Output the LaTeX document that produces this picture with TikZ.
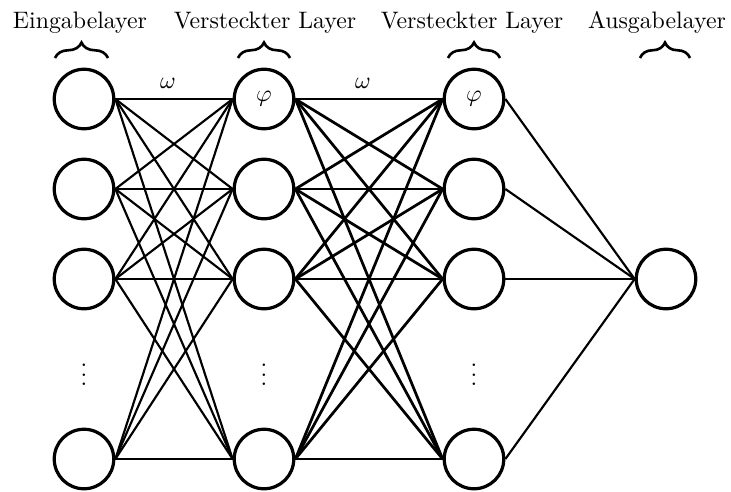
\documentclass[tikz,border=0pt]{standalone}
\usetikzlibrary{decorations.pathreplacing}
\begin{document}
\begin{tikzpicture}[x=0.42pt,y=-0.42pt,
  neuron/.style={circle,draw,line width=1.35pt,minimum size=25pt,inner sep=0pt},
  conn/.style={line width=0.9pt},
  connb/.style={line width=1.15pt},
  lbl/.style={anchor=base,inner sep=0pt},
  br/.style={decorate,decoration={brace,amplitude=6.5pt},line width=1.1pt}]
\useasboundingbox (0,0) rectangle (731,491);
% layer 1
\node[neuron] (a1) at (84,99) {};
\node[neuron] (a2) at (84,189) {};
\node[neuron] (a3) at (84,279) {};
\node (ad) at (84,368) {$\vdots$};
\node[neuron] (a4) at (84,459) {};
% layer 2
\node[neuron] (b1) at (264,99) {$\varphi$};
\node[neuron] (b2) at (264,189) {};
\node[neuron] (b3) at (264,279) {};
\node (bd) at (264,368) {$\vdots$};
\node[neuron] (b4) at (264,459) {};
% layer 3
\node[neuron] (c1) at (474,99) {$\varphi$};
\node[neuron] (c2) at (474,189) {};
\node[neuron] (c3) at (474,279) {};
\node (cd) at (474,368) {$\vdots$};
\node[neuron] (c4) at (474,459) {};
% output
\node[neuron] (o) at (666,279) {};
% connections
\foreach \i in {1,2,3,4}{
  \foreach \j in {1,2,3,4}{
    \draw[conn] (a\i.east) -- (b\j.west);
    \draw[connb] (b\i.east) -- (c\j.west);
  }
  \draw[conn] (c\i.east) -- (o.west);
}
% weights
\node (w1) at (168,83) {$\omega$};
\node (w2) at (363,83) {$\omega$};
% braces
\draw[br] (55,58) -- (108,58);
\draw[br] (238,58) -- (290,58);
\draw[br] (448,58) -- (500,58);
\draw[br] (640,58) -- (690,58);
% labels
\node[lbl] (l1) at (80,28) {Eingabelayer};
\node[lbl] (l2) at (265,28) {Versteckter Layer};
\node[lbl] (l3) at (472,28) {Versteckter Layer};
\node[lbl] (l4) at (657,28) {Ausgabelayer};
\end{tikzpicture}
\end{document}
